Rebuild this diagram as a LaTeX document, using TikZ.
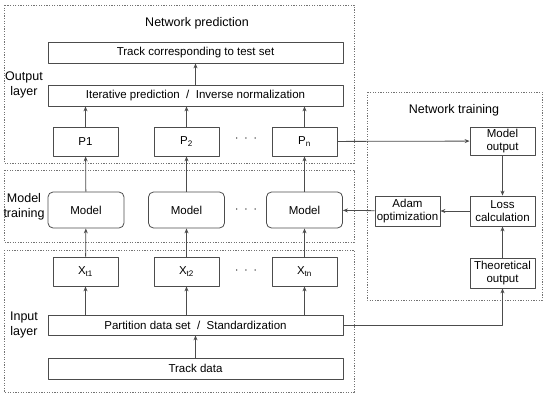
\documentclass[tikz,border=0pt]{standalone}
\usepackage{fontspec}
\setmainfont{Liberation Sans}
\usetikzlibrary{arrows.meta}
\begin{document}
\begin{tikzpicture}[x=1pt,y=-1pt,font=\fontsize{11.5}{12.5}\selectfont,line join=round,>={Stealth[length=5pt,width=4pt]},
	box/.style={draw=black!70,thick,minimum height=21pt,inner sep=1pt,align=center},
	model/.style={box,rounded corners=5pt,minimum width=76pt,minimum height=36pt},
	region/.style={draw=black!55,dash pattern=on 1.2pt off 1.4pt},
	arr/.style={->,black!70,thick}]
	\useasboundingbox (0,0) rectangle (550,400);
	%Vẽ các vùng
	\draw[region] (4,5) rectangle (354,163);
	\draw[region] (4,170) rectangle (354,242);
	\draw[region] (4,250) rectangle (354,392);
	\draw[region] (367,92) rectangle (542,300);
	\node[font=\fontsize{12.5}{13}\selectfont] (tpred) at (197,23) {Network prediction};
	\node[font=\fontsize{12.5}{13}\selectfont] (ttrain) at (454,110) {Network training};
	\node[align=center,font=\fontsize{12.5}{14.5}\selectfont] (lout) at (24,85) {Output\\layer};
	\node[align=center,font=\fontsize{12.5}{14.5}\selectfont] (lmod) at (24,207) {Model\\training};
	\node[align=center,font=\fontsize{12.5}{14.5}\selectfont] (lin) at (24,325) {Input\\layer};
	%Vẽ các hộp
	\node[box,minimum width=295pt] (track) at (195.5,52.5) {Track corresponding to test set};
	\node[box,minimum width=295pt] (iter) at (195.5,95.5) {Iterative prediction \ / \ Inverse normalization};
	\node[box,minimum width=65pt,minimum height=29pt] (p1) at (85.5,141.5) {P1};
	\node[box,minimum width=65pt,minimum height=29pt] (p2) at (186.5,141.5) {P\textsubscript{2}};
	\node[box,minimum width=65pt,minimum height=29pt] (pn) at (304.5,141.5) {P\textsubscript{n}};
	\node[model] (m1) at (86,210) {Model};
	\node[model] (m2) at (186.5,210) {Model};
	\node[model] (mn) at (304.5,210) {Model};
	\node[box,minimum width=65pt,minimum height=29pt] (x1) at (85.5,271.5) {X\textsubscript{t1}};
	\node[box,minimum width=65pt,minimum height=29pt] (x2) at (186.5,271.5) {X\textsubscript{t2}};
	\node[box,minimum width=65pt,minimum height=29pt] (xn) at (304.5,271.5) {X\textsubscript{tn}};
	\node[box,minimum width=295pt,minimum height=20pt] (part) at (195.5,325) {Partition data set \ / \ Standardization};
	\node[box,minimum width=295pt] (data) at (195.5,368.5) {Track data};
	\node[box,minimum width=65pt,minimum height=28pt] (mout) at (502.5,141) {Model\\output};
	\node[box,minimum width=65pt,minimum height=30pt] (loss) at (502.5,211) {Loss\\calculation};
	\node[box,minimum width=65pt,minimum height=30pt] (adam) at (407.5,211) {Adam\\optimization};
	\node[box,minimum width=65pt,minimum height=30pt] (theo) at (502.5,273) {Theoretical\\output};
	\foreach \r in {139,210,271}
		\node (dots\r) at (246,\r) {$\cdot\;\cdot\;\cdot$};
	%Vẽ các mũi tên
	\draw[arr] (data) -- (part);
	\draw[arr] (iter) -- (track);
	\foreach \i in {1,2,n}{
		\draw[arr] (x\i |- part.north) -- (x\i);
		\draw[arr] (x\i) -- (m\i);
		\draw[arr] (m\i) -- (p\i);
		\draw[arr] (p\i) -- (p\i |- iter.south);
	}
	\draw[arr] (pn) -- (mout);
	\draw[arr] (mout) -- (loss);
	\draw[arr] (loss) -- (adam);
	\draw[arr] (adam) -- (mn);
	\draw[arr] (theo) -- (loss);
	\draw[arr] (part.east) -| (theo.south);
\end{tikzpicture}
\end{document}
